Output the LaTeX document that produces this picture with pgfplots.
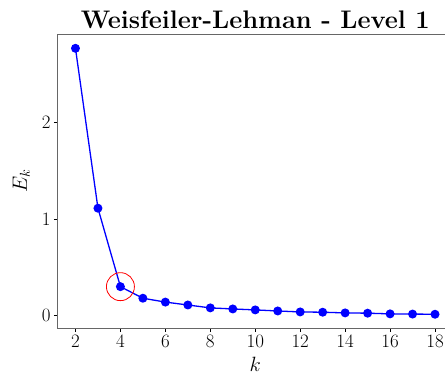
\documentclass[border=0pt]{standalone}
\usepackage{pgfplots}
\pgfplotsset{compat=1.18}
\begin{document}
\begin{tikzpicture}
\begin{axis}[
  scale only axis,
  width=395.5bp, height=294bp,
  xmin=1.2, xmax=18.8,
  ymin=-0.1285, ymax=2.9185,
  xtick={2,4,...,18},
  ytick={0,1,2},
  tick align=outside,
  tick pos=left,
  major tick length=3.5bp,
  tick style={black, line width=0.6bp},
  axis line style={black!60, line width=0.8bp},
  /pgf/number format/assume math mode=true,
  tick label style={font=\fontsize{19}{22}\selectfont},
  xlabel={$k$},
  ylabel={$E_k$},
  label style={font=\fontsize{20}{23}\selectfont},
  xlabel style={yshift=-2bp},
  ylabel style={yshift=5bp},
  title={Weisfeiler-Lehman - Level 1},
  title style={font=\fontsize{25.5}{29}\selectfont\bfseries, yshift=-4bp},
  clip=false,
]
\addplot[blue, line width=1.3bp, mark=*, mark size=3.8bp, mark options={fill=blue, draw=blue}]
coordinates {
(2,2.77) (3,1.113) (4,0.30) (5,0.18) (6,0.14) (7,0.11) (8,0.08) (9,0.069)
(10,0.059) (11,0.048) (12,0.038) (13,0.035) (14,0.028) (15,0.025)
(16,0.018) (17,0.016) (18,0.014)
};
\addplot[only marks, mark=o, mark size=14bp, red, mark options={line width=0.8bp}]
coordinates {(4,0.30)};
\end{axis}
\pgfresetboundingbox
\path[use as bounding box] ([shift={(-57.5bp,-48bp)}]current axis.south west) rectangle ([shift={(387.5bp,34bp)}]current axis.north west);
\end{tikzpicture}
\end{document}
